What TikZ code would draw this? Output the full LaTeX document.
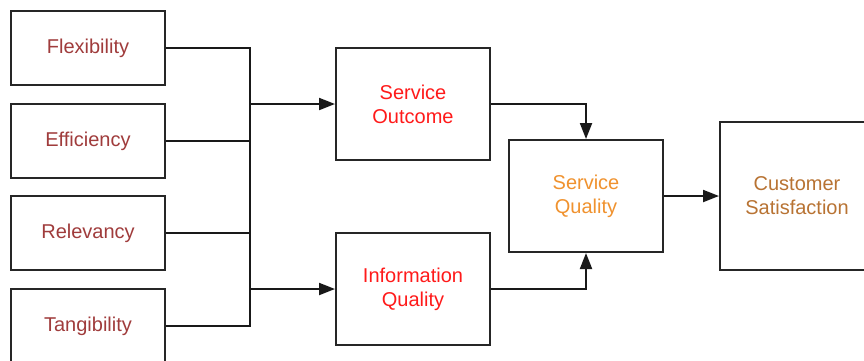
\documentclass[tikz,border=0pt]{standalone}
\usepackage{fontspec}
\setmainfont{Liberation Sans}
\usetikzlibrary{arrows.meta}
\definecolor{factor}{HTML}{A03C3C}
\definecolor{midred}{HTML}{FF1A1A}
\definecolor{sqorange}{HTML}{F0922E}
\definecolor{csbrown}{HTML}{B87333}
\begin{document}
\begin{tikzpicture}[x=1pt,y=-1pt,
  box/.style={draw=black!85, line width=2pt, fill=white, inner sep=0pt,
    align=center, font=\fontsize{20}{24}\selectfont},
  small/.style={box, minimum width=154pt, minimum height=74pt, text=factor},
  mid/.style={box, minimum width=154pt, minimum height=112pt},
  link/.style={line width=2pt, draw=black!90},
  arr/.style={link, -{Triangle[length=16pt,width=12pt]}}]
\useasboundingbox (0,0) rectangle (864,360);
\clip (0,0) rectangle (864,360);
\fill[white] (0,0) rectangle (864,360);

% input factors
\node[small] (flex) at (88,48)  {Flexibility};
\node[small] (eff)  at (88,141) {Efficiency};
\node[small] (rel)  at (88,233) {Relevancy};
\node[small] (tan)  at (88,326) {Tangibility};

% intermediate constructs
\node[mid, text=midred] (so) at (413,104) {Service\\Outcome};
\node[mid, text=midred] (iq) at (413,289) {Information\\Quality};
\node[mid, text=sqorange] (sq) at (586,196) {Service\\Quality};
\node[box, minimum width=154pt, minimum height=148pt, text=csbrown] (cs) at (797,196) {Customer\\Satisfaction};

% collecting bus
\coordinate (bus) at (250,0);
\draw[link] (flex.east) -- (flex.east -| bus) -- (tan.east -| bus) -- (tan.east);
\draw[link] (eff.east) -- (eff.east -| bus);
\draw[link] (rel.east) -- (rel.east -| bus);
\draw[arr] (so.west -| bus) -- (so.west);
\draw[arr] (iq.west -| bus) -- (iq.west);

% towards satisfaction
\draw[arr] (so.east) -| (sq.north);
\draw[arr] (iq.east) -| (sq.south);
\draw[arr] (sq.east) -- (cs.west);
\end{tikzpicture}
\end{document}
